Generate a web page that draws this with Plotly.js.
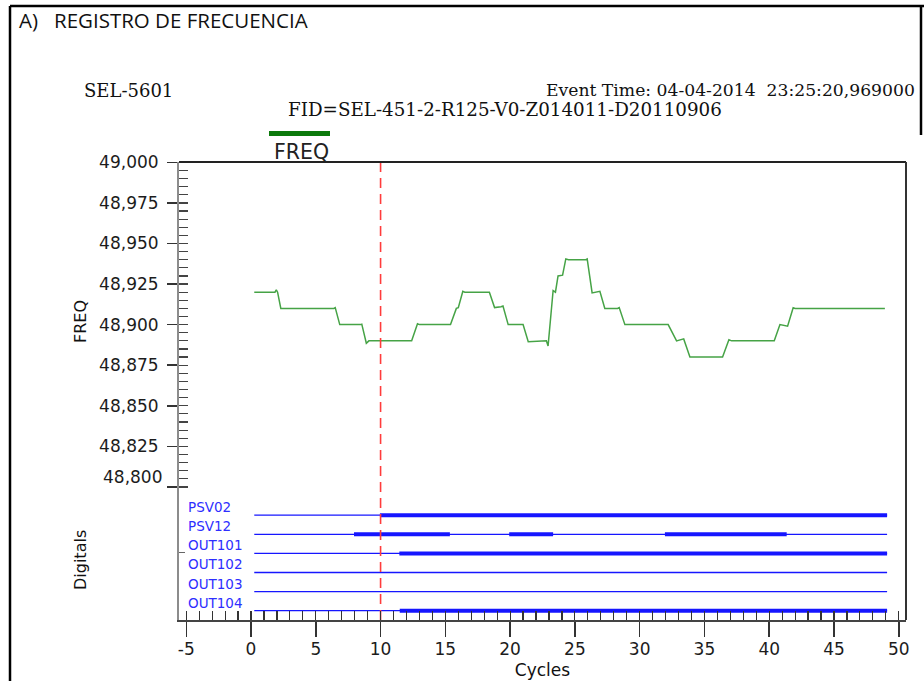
<!DOCTYPE html>
<html>
<head>
<meta charset="utf-8">
<script src="https://cdn.plot.ly/plotly-3.0.1.min.js"></script>
<style>
  html, body { margin: 0; padding: 0; background: #fff; }
  #chart { width: 924px; height: 681px; }
</style>
</head>
<body>
<div id="chart"></div>
<script>
// ---------------- DATA ----------------
const freqCycles = [0.25, 1.85, 1.95, 2.05, 2.3, 6.4, 6.5, 6.85, 8.45, 8.55, 8.9, 9.1,
  12.4, 12.85, 13.0, 15.4, 15.85, 16.0, 16.35, 16.5, 18.4, 18.8, 19.3, 19.45, 19.85,
  21.0, 21.4, 22.8, 22.93, 23.32, 23.5, 23.7, 24.05, 24.3, 24.5, 25.85, 25.95, 26.33,
  26.93, 27.31, 28.3, 28.42, 28.86, 32.2, 32.85, 33.4, 33.88, 36.4, 36.89, 37.1,
  40.39, 40.83, 41.42, 41.85, 42.0, 48.93];
const freqValues = [48.920, 48.920, 48.9215, 48.920, 48.910, 48.910, 48.9105, 48.900,
  48.900, 48.9003, 48.8885, 48.890, 48.890, 48.9005, 48.900, 48.900, 48.910, 48.9105,
  48.9205, 48.920, 48.920, 48.9105, 48.911, 48.9115, 48.900, 48.900, 48.8895, 48.890,
  48.8868, 48.921, 48.920, 48.930, 48.9305, 48.9405, 48.940, 48.940, 48.9405, 48.9195,
  48.9205, 48.910, 48.910, 48.9105, 48.900, 48.900, 48.890, 48.8912, 48.880, 48.880,
  48.8907, 48.890, 48.890, 48.900, 48.899, 48.9104, 48.910, 48.910];

const freqTickVals = [48.800, 48.825, 48.850, 48.875, 48.900, 48.925, 48.950, 48.975, 49.000];
const freqTickText = ['48,800', '48,825', '48,850', '48,875', '48,900', '48,925', '48,950', '48,975', '49,000'];
const freqMinorTicks = [48.800, 48.805, 48.810, 48.815, 48.820, 48.825, 48.830, 48.835, 48.840,
  48.845, 48.850, 48.855, 48.860, 48.865, 48.870, 48.875, 48.880, 48.885, 48.890, 48.895,
  48.900, 48.905, 48.910, 48.915, 48.920, 48.925, 48.930, 48.935, 48.940, 48.945, 48.950,
  48.955, 48.960, 48.965, 48.970, 48.975, 48.980, 48.985, 48.990, 48.995, 49.000];

const cycleTickVals = [-5, 0, 5, 10, 15, 20, 25, 30, 35, 40, 45, 50];
const cycleTickText = ['-5', '0', '5', '10', '15', '20', '25', '30', '35', '40', '45', '50'];

const digitalNames = ['PSV02', 'PSV12', 'OUT101', 'OUT102', 'OUT103', 'OUT104'];
const digitalLevels = [5, 4, 3, 2, 1, 0];
const digitalStart = 0.25;
const digitalEnd = 49.1;
const digitalOn = [
  [[9.95, 49.1]],
  [[7.95, 15.35], [19.93, 23.32], [31.95, 41.35]],
  [[11.45, 49.1]],
  [],
  [],
  [[11.48, 49.1]]
];
const triggerCycle = 10;

// ---------------- HELPERS (pixel -> paper) ----------------
const L = 179, R = 906, T = 162, B = 620;
const px = v => (v - L) / (R - L);
const py = v => (B - v) / (B - T);

const blue = '#1616ff';
const traces = [];

traces.push({
  x: freqCycles, y: freqValues, type: 'scatter', mode: 'lines',
  line: { color: '#46a346', width: 1.5 }, xaxis: 'x', yaxis: 'y',
  hoverinfo: 'skip', showlegend: false
});

digitalNames.forEach((name, i) => {
  const lvl = digitalLevels[i];
  traces.push({
    x: [digitalStart, digitalEnd], y: [lvl, lvl], type: 'scatter', mode: 'lines',
    line: { color: blue, width: 1.3 }, xaxis: 'x', yaxis: 'y2',
    hoverinfo: 'skip', showlegend: false
  });
  const xs = [], ys = [];
  digitalOn[i].forEach(seg => { xs.push(seg[0], seg[1], null); ys.push(lvl, lvl, null); });
  if (xs.length) {
    traces.push({
      x: xs, y: ys, type: 'scatter', mode: 'lines',
      line: { color: blue, width: 4 }, xaxis: 'x', yaxis: 'y2',
      hoverinfo: 'skip', showlegend: false
    });
  }
});

// trigger line
traces.push({
  x: [triggerCycle, triggerCycle], y: [-0.487, 23.49], type: 'scatter', mode: 'lines',
  line: { color: '#ff3c3c', width: 1.6, dash: '10px,6px' }, xaxis: 'x', yaxis: 'y2',
  hoverinfo: 'skip', showlegend: false
});

const tickFontFamily = 'DejaVu Sans, sans-serif';
const annotations = [];
digitalNames.forEach((name, i) => {
  annotations.push({
    x: -5.05, y: digitalLevels[i], xref: 'x', yref: 'y2', text: name, showarrow: false,
    xanchor: 'left', yanchor: 'middle', yshift: 8,
    font: { family: tickFontFamily, size: 13.5, color: '#2e2eff' }
  });
});

// lowest frequency label drawn slightly above its tick, as in the original record
annotations.push({
  x: 0, y: freqTickVals[0], xref: 'paper', yref: 'y', text: freqTickText[0], showarrow: false,
  xanchor: 'right', yanchor: 'middle', xshift: -15, yshift: 10,
  font: { family: tickFontFamily, size: 17, color: '#1c1c1c' }
});

const serif = 'DejaVu Serif, serif';
annotations.push(
  { x: px(17), y: py(20), xref: 'paper', yref: 'paper', xanchor: 'left', yanchor: 'middle',
    text: 'A)&nbsp;&nbsp; REGISTRO DE FRECUENCIA', showarrow: false,
    font: { family: 'Open Sans, sans-serif', size: 20.5, color: '#111' } },
  { x: px(82), y: py(90), xref: 'paper', yref: 'paper', xanchor: 'left', yanchor: 'middle',
    text: 'SEL-5601', showarrow: false, font: { family: serif, size: 18, color: '#111' } },
  { x: px(544), y: py(90), xref: 'paper', yref: 'paper', xanchor: 'left', yanchor: 'middle',
    text: 'Event Time: 04-04-2014&nbsp; 23:25:20,969000', showarrow: false,
    font: { family: serif, size: 17.2, color: '#111' } },
  { x: px(286), y: py(109), xref: 'paper', yref: 'paper', xanchor: 'left', yanchor: 'middle',
    text: 'FID=SEL-451-2-R125-V0-Z014011-D20110906', showarrow: false,
    font: { family: serif, size: 18.3, color: '#111' } },
  { x: px(301), y: py(152), xref: 'paper', yref: 'paper', xanchor: 'center', yanchor: 'middle',
    text: 'FREQ', showarrow: false, font: { family: tickFontFamily, size: 20.5, color: '#222' } },
  { x: px(80), y: py(322), xref: 'paper', yref: 'paper', xanchor: 'center', yanchor: 'middle',
    text: 'FREQ', textangle: -90, showarrow: false,
    font: { family: tickFontFamily, size: 16, color: '#111' } },
  { x: px(80), y: py(560), xref: 'paper', yref: 'paper', xanchor: 'center', yanchor: 'middle',
    text: 'Digitals', textangle: -90, showarrow: false,
    font: { family: tickFontFamily, size: 16, color: '#111' } }
);

const shapes = [
  // legend sample line
  { type: 'line', xref: 'paper', yref: 'paper', x0: px(269), x1: px(330), y0: py(133.5), y1: py(133.5),
    line: { color: '#0c7a0c', width: 5 } },
  // plot frame top and right
  { type: 'line', xref: 'paper', yref: 'paper', x0: 0, x1: 1, y0: 1, y1: 1, line: { color: '#222', width: 2 } },
  { type: 'line', xref: 'paper', yref: 'paper', x0: 1, x1: 1, y0: 0, y1: 1, line: { color: '#333', width: 2 } },
  // page border
  { type: 'line', xref: 'paper', yref: 'paper', x0: px(10), x1: px(10), y0: py(6), y1: py(690), line: { color: '#000', width: 2.5 } },
  { type: 'line', xref: 'paper', yref: 'paper', x0: px(10), x1: px(930), y0: py(6), y1: py(6), line: { color: '#000', width: 2.5 } },
  { type: 'line', xref: 'paper', yref: 'paper', x0: px(921), x1: px(921), y0: py(6), y1: py(135), line: { color: '#000', width: 2.5 } }
];

const tickFont = { family: tickFontFamily, size: 17, color: '#1c1c1c' };
const xr = [-5.56, 50.56];
const yr = [48.718, 49.0002];

const layout = {
  width: 924, height: 681,
  margin: { l: L, r: 924 - R, t: T, b: 681 - B, pad: 0 },
  paper_bgcolor: '#fff', plot_bgcolor: '#fff',
  showlegend: false,
  xaxis: {
    range: xr, tickmode: 'array', tickvals: cycleTickVals, ticktext: cycleTickText,
    ticks: 'outside', ticklen: 15, tickwidth: 1.5, tickcolor: '#333',
    showline: true, linecolor: '#444', linewidth: 1.5, showgrid: false, zeroline: false,
    tickfont: tickFont, ticklabelstandoff: -2,
    title: { text: 'Cycles', font: { family: tickFontFamily, size: 17, color: '#111' }, standoff: 6 }
  },
  xaxis2: {
    overlaying: 'x', anchor: 'y', side: 'bottom', range: xr,
    tickmode: 'linear', tick0: -5, dtick: 1, ticks: 'inside', ticklen: 9, tickwidth: 1.2, tickcolor: '#333',
    showticklabels: false, showline: false, showgrid: false, zeroline: false
  },
  yaxis: {
    range: yr, tickmode: 'array', tickvals: freqTickVals,
    ticktext: [''].concat(freqTickText.slice(1)),
    ticks: 'outside', ticklen: 10, tickwidth: 1.5, tickcolor: '#333',
    showline: true, linecolor: '#8c8c8c', linewidth: 2, showgrid: false, zeroline: false,
    tickfont: tickFont, ticklabelstandoff: 5
  },
  yaxis2: {
    overlaying: 'y', anchor: 'x', side: 'left', range: [-0.487, 23.49],
    tickmode: 'array', tickvals: [3.05], ticks: 'inside', ticklen: 6, tickwidth: 1.2, tickcolor: '#666',
    showticklabels: false, showline: false, showgrid: false, zeroline: false
  },
  yaxis3: {
    overlaying: 'y', anchor: 'x', side: 'left', range: yr,
    tickmode: 'array', tickvals: freqMinorTicks, ticks: 'inside', ticklen: 9, tickwidth: 1.2, tickcolor: '#444',
    showticklabels: false, showline: false, showgrid: false, zeroline: false
  },
  annotations: annotations,
  shapes: shapes
};

// invisible trace to activate overlay axes
traces.push({ x: [xr[0]], y: [48.9], xaxis: 'x2', yaxis: 'y3', type: 'scatter', mode: 'markers',
  marker: { opacity: 0 }, hoverinfo: 'skip', showlegend: false });

Plotly.newPlot('chart', traces, layout, { displayModeBar: false, staticPlot: true });
</script>
</body>
</html>
